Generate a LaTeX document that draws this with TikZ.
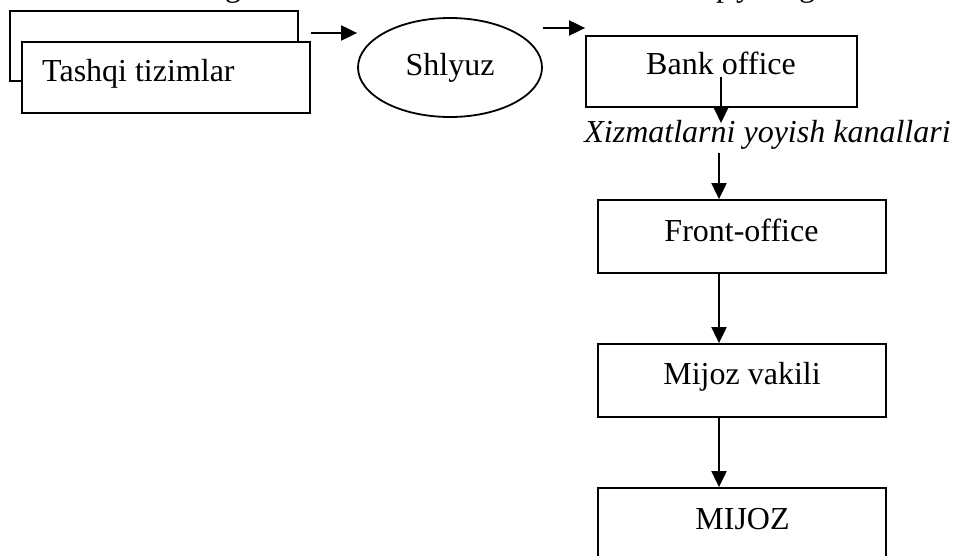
\documentclass[tikz,border=0pt]{standalone}
\usepackage{fontspec}
\setmainfont{Liberation Serif}
\usetikzlibrary{arrows.meta,shapes.geometric}
\begin{document}
\begin{tikzpicture}[x=1pt,y=-1pt,
  box/.style={draw=black,line width=1.8pt,rectangle,inner sep=0pt,fill=white},
  oval/.style={draw=black,line width=1.8pt,ellipse,inner sep=0pt,fill=white,
    font=\fontsize{32}{36}\selectfont},
  lbl/.style={anchor=base,inner sep=0pt,font=\fontsize{32}{36}\selectfont},
  arr/.style={line width=2pt,-{Triangle[length=16pt,width=15pt]}}]
\useasboundingbox (0,0) rectangle (957,556);
\clip (0,0) rectangle (957,556);

% caption line above, cut by the page edge
\node[lbl] (capg) at (233,-3) {g};
\node[lbl,anchor=base west] (capp) at (716,-3) {p};
\node[lbl,anchor=base west] (capy) at (736,-3) {y};
\node[lbl,anchor=base west] (capg2) at (799,-3) {g};

% external systems: stacked boxes
\node[box,minimum width=288pt,minimum height=70pt] (back) at (154,46) {};
\node[box,minimum width=288pt,minimum height=71pt] (tashqi) at (166,77.5) {};
\node[lbl,anchor=base west] (tashqiT) at (42,82) {Tashqi tizimlar};

% gateway
\node[oval,minimum width=184pt,minimum height=99pt] (shlyuz) at (450,67.5) {Shlyuz};

% bank office
\node[box,minimum width=271pt,minimum height=71pt] (bank) at (721.5,71.5) {};
\node[lbl] (bankT) at (721,75) {Bank office};

% service channels
\node[lbl,font=\fontsize{32}{36}\selectfont\itshape] (kanal) at (767.5,143)
  {Xizmatlarni yoyish kanallari};

% front office, client representative, client
\node[box,minimum width=288pt,minimum height=73pt] (front) at (742,236.5) {};
\node[lbl] (frontT) at (741.5,241) {Front-office};
\node[box,minimum width=288pt,minimum height=73pt] (vakil) at (742,380.5) {};
\node[lbl] (vakilT) at (742,384) {Mijoz vakili};
\node[box,minimum width=288pt,minimum height=112pt] (mijoz) at (742,544) {};
\node[lbl] (mijozT) at (742.5,529) {MIJOZ};

% connectors
\coordinate (r1) at (0,33);
\coordinate (r2) at (0,28);
\coordinate (a3) at (721,77);
\coordinate (a4) at (719,153);
\draw[arr] (tashqi.east |- r1) -- (shlyuz.west |- r1);
\draw[arr] (shlyuz.east |- r2) -- (bank.west |- r2);
\draw[arr] (a3) -- (a3 |- 0,123);
\draw[arr] (a4) -- (a4 |- front.north);
\draw[arr] (front.south -| a4) -- (vakil.north -| a4);
\draw[arr] (vakil.south -| a4) -- (mijoz.north -| a4);
\end{tikzpicture}
\end{document}
